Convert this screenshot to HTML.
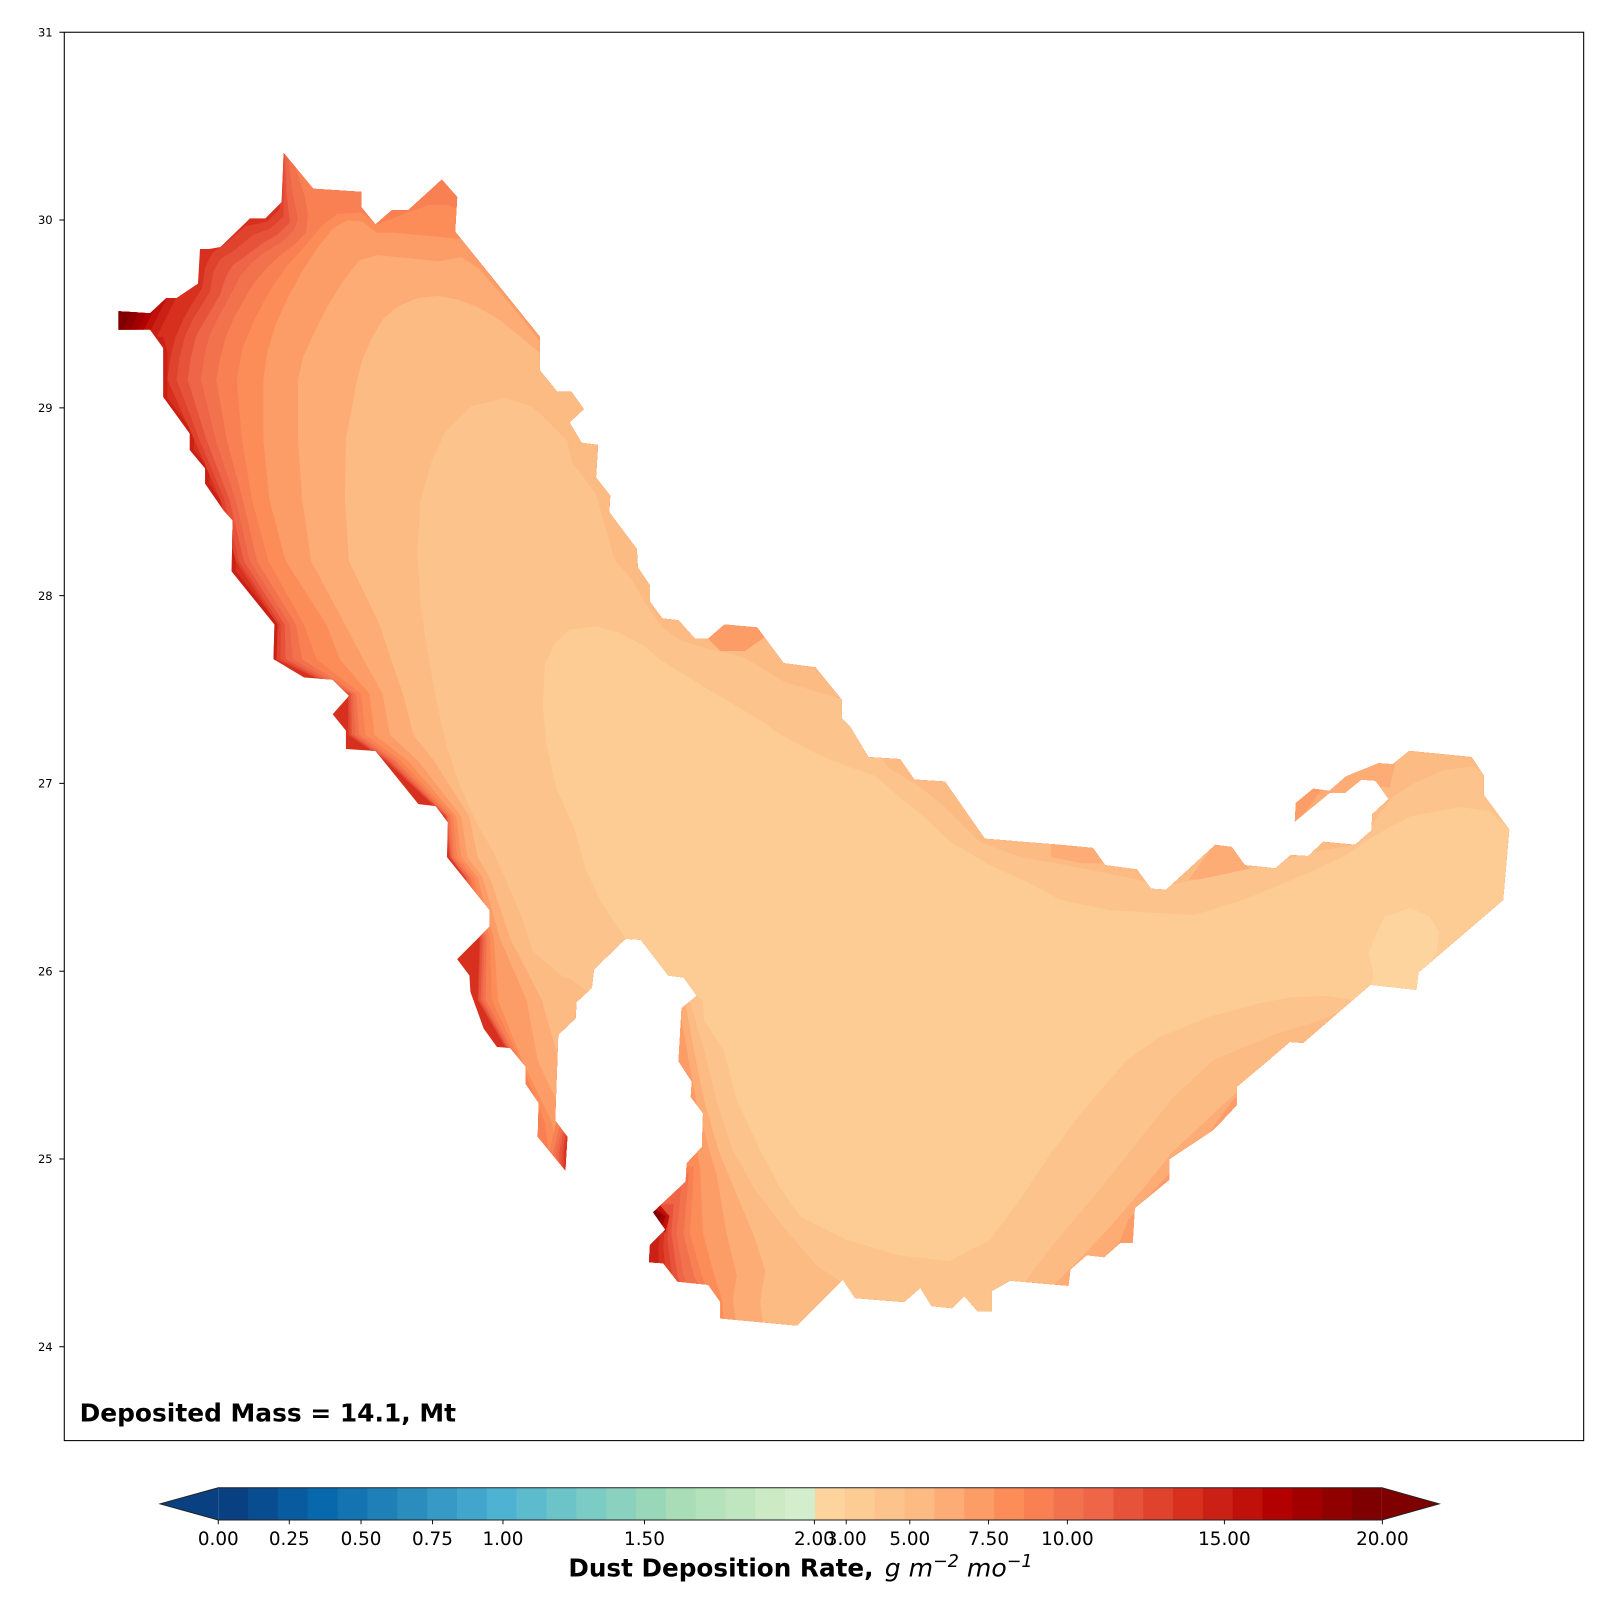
<!DOCTYPE html>
<html>
<head>
<meta charset="utf-8">
<style>
html,body{margin:0;padding:0;background:#fff;}
svg{display:block;}
text{font-family:"DejaVu Sans","Liberation Sans",sans-serif;}
</style>
</head>
<body>
<svg xmlns="http://www.w3.org/2000/svg" width="1600" height="1600" viewBox="0 0 1568 1568">
<rect x="0" y="0" width="1568" height="1568" fill="#ffffff"/>
<defs>
<clipPath id="w">
<polygon points="116,305 147,307 163,292 173,292 194,278 196,244 205,244 216,242 245,214 260,214 276,198 278,150 307,185 354,188 354,203 368,220 384,206 400,206 433,176 448,193 446,227 529,330 529,363 546,384 560,384 572,401 558,414 570,434 586,436 584,468 598,486 597,502 624,538 625,556 637,574 637,590 649,606 665,608 681,626 694,626 710,612 742,615 768,650 799,654 825,686 825,704 833,712 851,742 882,744 896,764 926,766 965,822 1039,828 1071,831 1083,848 1114,852 1128,871 1143,872 1191,828 1207,830 1220,848 1250,851 1265,838 1282,839 1297,825 1328,828 1344,814 1345,798 1361,783 1348,765 1334,764 1318,777 1303,777 1269,805 1270,787 1287,773 1303,775 1319,761 1351,748 1365,749 1381,736 1442,742 1454,760 1454,779 1479,813 1473,882 1390,953 1388,970 1343,965 1277,1022 1264,1021 1243,1039 1212,1065 1212,1083 1196,1100 1188,1108 1146,1136 1146,1156 1112,1184 1110,1218 1098,1218 1082,1232 1065,1230 1049,1244 1047,1260 990,1255 972,1265 972,1285 958,1285 945,1270 933,1282 913,1280 902,1262 886,1276 838,1272 826,1254 781,1299 706,1292 706,1276 694,1259 664,1256 650,1238 636,1237 637,1220 652,1205 640,1188 672,1158 673,1140 688,1124 689,1091 677,1075 678,1060 665,1040 668,988 683,976 670,958 655,956 628,921 613,920 582,950 580,968 565,982 564,998 547,1014 544,1098 556,1114 554,1147 527,1114 528,1081 515,1062 515,1045 500,1027 487,1026 474,1008 461,972 460,956 448,940 480,908 480,892 438,840 439,806 427,790 410,788 368,736 339,734 339,716 326,700 342,682 326,666 298,664 268,646 269,612 227,560 228,510 219,500 201,474 201,459 186,441 186,425 173,407 160,389 160,341 147,323 116,323"/>
</clipPath>
</defs>

<g clip-path="url(#w)">
<rect x="0" y="0" width="1568" height="1568" fill="#d7301f"/>
<polygon fill="#cb2015" points="160,330 164,345 164,390 177,407 190,425 190,441 205,459 205,474 223,500 232,510 231,560 273,612 272,646 240,660 100,660 100,330"/>
<!-- NW tip stripes -->
<polygon fill="#cb2015" points="178.5,280 143.5,350 100,350 100,280"/>
<polygon fill="#bf100a" points="169.5,280 134.5,350 100,350 100,280"/>
<polygon fill="#b30000" points="162.5,280 127.5,350 100,350 100,280"/>
<polygon fill="#a20000" points="156.5,280 121.5,350 100,350 100,280"/>
<polygon fill="#900000" points="149.5,280 114.5,350 100,350 100,280"/>
<polygon fill="#7f0000" points="141.5,280 106.5,350 100,350 100,280"/>

<!-- West coastal bands -->
<path fill="#df422d" d="M276,-100 L276,150 L276,180 L274,205 L262,217 L240,222 L222,238 L208,248 L201,262 L198,282 L188,298 L180,312 L172,330 L167,350 L164,372 L190,430 L216,490 L231,550 L272,612 L271,646 L341,680 L341,720 L377,745 L436,800 L440,840 L455,860 L470,920 L468,980 L503,1040 L520,1100 L528,1146 L600,1165 L600,1600 L1600,1600 L1600,-100 Z"/>
<path fill="#e7533a" d="M277,-100 L277,150 L278,180 L278,212 L265,224 L248,230 L230,245 L216,254 L209,266 L206,285 L197,300 L189,313 L181,330 L176,350 L173,372 L195,430 L220,490 L234,550 L275,612 L275,646 L342,680 L343,720 L379,745 L437,800 L441,840 L456,860 L471,920 L469,980 L504,1040 L521,1100 L529,1146 L600,1165 L600,1600 L1600,1600 L1600,-100 Z"/>
<path fill="#ef6548" d="M279,-100 L279,150 L281,190 L284,218 L272,230 L258,238 L242,250 L228,260 L221,272 L216,288 L208,302 L200,315 L192,330 L187,350 L184,372 L202,430 L225,490 L239,550 L279,612 L280,646 L344,680 L345,720 L381,745 L438,800 L442,840 L457,860 L473,920 L471,980 L505,1040 L522,1100 L530,1146 L600,1165 L600,1600 L1600,1600 L1600,-100 Z"/>
<path fill="#f3724e" d="M282,-100 L282,150 L283,160 L287,190 L292,215 L288,226 L275,238 L260,247 L246,258 L236,270 L228,285 L220,300 L212,315 L205,330 L200,350 L197,372 L211,430 L231,490 L245,550 L284,612 L287,646 L346,680 L348,720 L384,745 L439,800 L443,840 L459,860 L475,920 L473,980 L506,1040 L523,1100 L531,1146 L600,1165 L600,1600 L1600,1600 L1600,-100 Z"/>
<path fill="#f88053" d="M288,-100 L288,150 L290,165 L298,190 L302,210 L300,228 L288,240 L275,250 L262,262 L250,276 L240,292 L230,310 L222,328 L216,350 L212,372 L222,430 L238,490 L252,550 L290,612 L296,646 L349,680 L352,720 L387,745 L441,800 L445,840 L461,860 L477,920 L476,980 L508,1040 L525,1100 L533,1146 L600,1165 L600,1600 L1600,1600 L1600,-100 Z"/>
<path fill="#fc8d59" d="M480,-100 L480,205 L448,205 L440,201 L420,201 L405,206 L385,214 L369,220 L354,208 L330,210 L315,222 L300,240 L282,260 L265,284 L250,312 L238,340 L232,372 L237,430 L247,490 L263,550 L298,612 L310,646 L354,680 L358,720 L392,745 L444,800 L448,840 L464,860 L480,920 L482,980 L510,1040 L534,1100 L540,1146 L600,1165 L600,1600 L1600,1600 L1600,-100 Z"/>
<path fill="#fc9c67" d="M480,-100 L480,234 L448,234 L430,232 L385,228 L369,228 L355,217 L340,216 L326,224 L312,242 L296,266 L282,292 L270,318 L262,345 L258,372 L258,430 L264,490 L280,550 L320,612 L333,646 L362,680 L367,720 L399,745 L447,800 L452,840 L468,860 L484,920 L488,980 L512,1040 L541,1100 L548,1146 L600,1165 L600,1600 L1600,1600 L1600,-100 Z"/>
<path fill="#fdac76" d="M560,-100 L560,334 L529,334 L500,298 L470,264 L452,252 L430,256 L400,253 L370,250 L352,255 L336,276 L320,302 L307,328 L297,350 L292,372 L292,430 L296,490 L305,550 L338,612 L356,646 L375,680 L382,720 L409,745 L452,800 L458,840 L473,860 L490,920 L516,980 L527,1040 L556,1100 L570,1146 L600,1165 L600,1600 L1600,1600 L1600,-100 Z"/>
<path fill="#fdbb84" d="M560,-100 L560,346 L529,346 L510,330 L490,314 L470,302 L450,294 L430,290 L410,292 L390,300 L376,312 L365,330 L356,350 L350,372 L339,430 L338,490 L342,550 L372,612 L383,646 L395,680 L405,720 L425,745 L460,800 L468,840 L480,860 L500,920 L531,980 L548,1040 L565,1100 L575,1146 L600,1165 L600,1600 L1600,1600 L1600,-100 Z"/>

<!-- Bahrain strip tip (red on east side) -->
<polygon fill="#f88053" points="545,1100 570,1100 570,1160 540,1160 538,1130"/>
<polygon fill="#f3724e" points="548,1104 570,1104 570,1160 544,1160 542,1130"/>
<polygon fill="#ef6548" points="550,1108 570,1108 570,1160 547,1160 545,1130"/>
<polygon fill="#e7533a" points="552,1110 570,1110 570,1160 549,1160 548,1130"/>
<polygon fill="#df422d" points="554,1112 570,1112 570,1160 551,1160 551,1130"/>
<polygon fill="#d7301f" points="555,1114 570,1114 570,1160 553,1160 553,1130"/>

<!-- Iran coast spots -->
<polygon fill="#fc9c67" points="690,622 705,610 742,612 750,624 730,638 706,638"/>
<polygon fill="#fdac76" points="1165,862 1191,826 1207,828 1225,852 1200,862"/>
<polygon fill="#fdac76" points="1030,826 1071,829 1083,846 1060,846 1030,840"/>
<polygon fill="#fdac76" points="1262,812 1266,784 1287,770 1303,772 1319,758 1351,745 1368,746 1362,772 1345,770 1334,768 1318,780 1303,780"/>
<polygon fill="#fc9c67" points="1262,812 1266,784 1287,770 1296,772 1280,795"/>

<!-- SW (Qatar SE / UAE W) coastal stripes -->
<polygon fill="#fdac76" points="672,985 680,1029 690,1078 704,1127 720,1166 738,1209 750,1245 745,1275 748,1300 748,1320 600,1320 600,985"/>
<polygon fill="#fc9c67" points="668,1000 675,1040 682,1078 695,1127 702,1150 712,1209 722,1250 718,1275 722,1300 722,1320 600,1320 600,1000"/>
<polygon fill="#fc8d59" points="677,1100 686,1143 689,1209 700,1250 708,1275 710,1320 600,1320 600,1100"/>
<polygon fill="#f88053" points="680,1143 678,1180 676,1209 688,1250 698,1280 700,1320 600,1320 600,1143"/>
<polygon fill="#f3724e" points="675,1150 670,1209 680,1250 690,1270 690,1320 600,1320 600,1150"/>
<polygon fill="#ef6548" points="668,1160 663,1209 670,1250 676,1265 676,1320 600,1320 600,1160"/>
<polygon fill="#e7533a" points="660,1180 658,1209 664,1250 668,1262 668,1320 600,1320 600,1180"/>
<polygon fill="#df422d" points="656,1190 654,1215 658,1245 660,1262 660,1320 600,1320 600,1190"/>
<polygon fill="#d7301f" points="652,1195 650,1220 652,1245 654,1262 654,1320 600,1320 600,1195"/>
<polygon fill="#cb2015" points="648,1198 645,1225 646,1250 646,1320 600,1320 600,1198"/>
<polygon fill="#bf100a" points="646,1180 656,1192 652,1208 638,1200"/>
<polygon fill="#a20000" points="642,1184 652,1192 648,1205 638,1196"/>
<polygon fill="#7f0000" points="640,1186 648,1191 645,1200 638,1193"/>

<!-- UAE coastal stripes -->
<polygon fill="#fdac76" points="1030,1262 1060,1232 1090,1200 1120,1165 1150,1128 1180,1100 1210,1072 1240,1046 1270,1025 1300,1008 1330,990 1352,972 1420,1000 1420,1350 1030,1350"/>
<polygon fill="#fc9c67" points="1094,1225 1106,1195 1122,1176 1146,1150 1170,1150 1120,1240"/>
<polygon fill="#fc9c67" points="1184,1112 1198,1092 1210,1076 1230,1080 1196,1124"/>

<!-- C2 region -->
<polygon fill="#fdc38d" points="550,956 522,932 512,900 500,872 484,836 466,804 450,768 438,732 427,684 418,632 412,592 409,540 412,492 423,452 436,424 462,398 495,390 520,398 528,404 556,432 560,452 584,484 602,548 619,568 633,592 650,616 668,628 694,636 729,644 768,668 833,688 850,720 870,752 900,770 925,790 960,825 1000,840 1039,847 1071,853 1114,862 1137,869 1189,859 1235,849 1287,835 1328,828 1340,818 1350,800 1365,781 1385,768 1414,755 1444,751 1458,760 1500,790 1500,1000 1380,1000 1343,967 1316,990 1294,1000 1251,1013 1189,1039 1150,1075 1110,1125 1070,1175 1030,1222 1000,1262 1000,1300 830,1300 830,1260 800,1240 770,1205 740,1166 718,1127 702,1078 690,1029 676,980 640,975 620,990 580,975 560,960"/>
<!-- C1 core -->
<polygon fill="#fdcc95" points="613,920 589,884 574,852 563,812 545,772 536,732 532,692 534,652 543,632 558,617 584,614 606,620 633,634 646,646 694,676 742,704 768,722 803,740 833,752 857,760 880,780 905,800 930,824 970,848 1010,866 1039,882 1088,892 1170,897 1218,882 1267,862 1316,840 1349,818 1382,800 1431,791 1460,795 1479,813 1500,813 1500,980 1390,980 1343,970 1326,980 1300,976 1267,977 1235,983 1186,996 1137,1016 1104,1039 1060,1090 1030,1130 1000,1175 970,1215 930,1236 880,1230 830,1215 784,1192 764,1163 745,1127 722,1078 709,1029 690,1000 689,980 683,976 640,950"/>
<!-- C0 blob -->
<polygon fill="#fdd49e" points="1357,898 1382,890 1401,898 1410,913 1408,934 1395,955 1392,980 1343,972 1346,954 1341,934 1352,908"/>
</g>

<!-- Axes -->
<rect x="63" y="31.6" width="1489" height="1380.2" fill="none" stroke="#000" stroke-width="1.05"/>
<g stroke="#000" stroke-width="1">
<line x1="58.1" y1="31.6" x2="63" y2="31.6"/>
<line x1="58.1" y1="215.6" x2="63" y2="215.6"/>
<line x1="58.1" y1="399.7" x2="63" y2="399.7"/>
<line x1="58.1" y1="583.7" x2="63" y2="583.7"/>
<line x1="58.1" y1="767.7" x2="63" y2="767.7"/>
<line x1="58.1" y1="951.8" x2="63" y2="951.8"/>
<line x1="58.1" y1="1135.8" x2="63" y2="1135.8"/>
<line x1="58.1" y1="1319.8" x2="63" y2="1319.8"/>
</g>
<g font-size="11.3" fill="#000" text-anchor="end">
<text x="51.6" y="35.7">31</text>
<text x="51.6" y="219.7">30</text>
<text x="51.6" y="403.8">29</text>
<text x="51.6" y="587.8">28</text>
<text x="51.6" y="771.8">27</text>
<text x="51.6" y="955.9">26</text>
<text x="51.6" y="1139.9">25</text>
<text x="51.6" y="1323.9">24</text>
</g>

<text x="78" y="1393" font-size="24.4" font-weight="bold" fill="#000">Deposited Mass = 14.1, Mt</text>

<!-- Colorbar -->
<polygon points="213.9,1458 156.8,1473.8 213.9,1489.6" fill="#084081"/>
<polygon points="1354.26,1458 1410.5,1473.8 1354.26,1489.6" fill="#7f0000"/>
<g>
<rect x="213.9" y="1458" width="29.8" height="31.6" fill="#084081"/>
<rect x="243.14" y="1458" width="29.8" height="31.6" fill="#084d8f"/>
<rect x="272.38" y="1458" width="29.8" height="31.6" fill="#085b9e"/>
<rect x="301.62" y="1458" width="29.8" height="31.6" fill="#0868ac"/>
<rect x="330.86" y="1458" width="29.8" height="31.6" fill="#1474b2"/>
<rect x="360.1" y="1458" width="29.8" height="31.6" fill="#1f80b8"/>
<rect x="389.34" y="1458" width="29.8" height="31.6" fill="#2b8cbe"/>
<rect x="418.58" y="1458" width="29.8" height="31.6" fill="#3799c5"/>
<rect x="447.82" y="1458" width="29.8" height="31.6" fill="#42a6cc"/>
<rect x="477.06" y="1458" width="29.8" height="31.6" fill="#4eb3d3"/>
<rect x="506.3" y="1458" width="29.8" height="31.6" fill="#5dbbce"/>
<rect x="535.54" y="1458" width="29.8" height="31.6" fill="#6cc4c9"/>
<rect x="564.78" y="1458" width="29.8" height="31.6" fill="#7bccc4"/>
<rect x="594.02" y="1458" width="29.8" height="31.6" fill="#8ad2bf"/>
<rect x="623.26" y="1458" width="29.8" height="31.6" fill="#99d7b9"/>
<rect x="652.5" y="1458" width="29.8" height="31.6" fill="#a8ddb5"/>
<rect x="681.74" y="1458" width="29.8" height="31.6" fill="#b4e2ba"/>
<rect x="710.98" y="1458" width="29.8" height="31.6" fill="#c0e6c0"/>
<rect x="740.22" y="1458" width="29.8" height="31.6" fill="#ccebc5"/>
<rect x="769.46" y="1458" width="29.8" height="31.6" fill="#d3eecc"/>
<rect x="798.7" y="1458" width="29.8" height="31.6" fill="#fdd49e"/>
<rect x="827.94" y="1458" width="29.8" height="31.6" fill="#fdcc95"/>
<rect x="857.18" y="1458" width="29.8" height="31.6" fill="#fdc38d"/>
<rect x="886.42" y="1458" width="29.8" height="31.6" fill="#fdbb84"/>
<rect x="915.66" y="1458" width="29.8" height="31.6" fill="#fdac76"/>
<rect x="944.9" y="1458" width="29.8" height="31.6" fill="#fc9c67"/>
<rect x="974.14" y="1458" width="29.8" height="31.6" fill="#fc8d59"/>
<rect x="1003.38" y="1458" width="29.8" height="31.6" fill="#f88053"/>
<rect x="1032.62" y="1458" width="29.8" height="31.6" fill="#f3724e"/>
<rect x="1061.86" y="1458" width="29.8" height="31.6" fill="#ef6548"/>
<rect x="1091.1" y="1458" width="29.8" height="31.6" fill="#e7533a"/>
<rect x="1120.34" y="1458" width="29.8" height="31.6" fill="#df422d"/>
<rect x="1149.58" y="1458" width="29.8" height="31.6" fill="#d7301f"/>
<rect x="1178.82" y="1458" width="29.8" height="31.6" fill="#cb2015"/>
<rect x="1208.06" y="1458" width="29.8" height="31.6" fill="#bf100a"/>
<rect x="1237.3" y="1458" width="29.8" height="31.6" fill="#b30000"/>
<rect x="1266.54" y="1458" width="29.8" height="31.6" fill="#a20000"/>
<rect x="1295.78" y="1458" width="29.8" height="31.6" fill="#900000"/>
<rect x="1325.02" y="1458" width="29.24" height="31.6" fill="#7f0000"/>
</g>
<path d="M213.9,1458 L1354.26,1458 L1410.5,1473.8 L1354.26,1489.6 L213.9,1489.6 L156.8,1473.8 Z" fill="none" stroke="#222" stroke-width="0.9"/>
<g stroke="#000" stroke-width="0.9">
<line x1="213.9" y1="1489.6" x2="213.9" y2="1493.8"/>
<line x1="283.5" y1="1489.6" x2="283.5" y2="1493.8"/>
<line x1="353.8" y1="1489.6" x2="353.8" y2="1493.8"/>
<line x1="423.8" y1="1489.6" x2="423.8" y2="1493.8"/>
<line x1="492.9" y1="1489.6" x2="492.9" y2="1493.8"/>
<line x1="631.6" y1="1489.6" x2="631.6" y2="1493.8"/>
<line x1="798.1" y1="1489.6" x2="798.1" y2="1493.8"/>
<line x1="829.3" y1="1489.6" x2="829.3" y2="1493.8"/>
<line x1="891.6" y1="1489.6" x2="891.6" y2="1493.8"/>
<line x1="968.8" y1="1489.6" x2="968.8" y2="1493.8"/>
<line x1="1046" y1="1489.6" x2="1046" y2="1493.8"/>
<line x1="1199.9" y1="1489.6" x2="1199.9" y2="1493.8"/>
<line x1="1354.7" y1="1489.6" x2="1354.7" y2="1493.8"/>
</g>
<g font-size="18" fill="#000" text-anchor="middle">
<text x="213.9" y="1514">0.00</text>
<text x="283.5" y="1514">0.25</text>
<text x="353.8" y="1514">0.50</text>
<text x="423.8" y="1514">0.75</text>
<text x="492.9" y="1514">1.00</text>
<text x="631.6" y="1514">1.50</text>
<text x="798.1" y="1514">2.00</text>
<text x="829.3" y="1514">3.00</text>
<text x="891.6" y="1514">5.00</text>
<text x="968.8" y="1514">7.50</text>
<text x="1046" y="1514">10.00</text>
<text x="1199.9" y="1514">15.00</text>
<text x="1354.7" y="1514">20.00</text>
</g>
<text x="557" y="1545" font-size="24.2" font-weight="bold" fill="#000">Dust Deposition Rate,</text>
<text x="867" y="1545" font-size="24.6" font-style="italic" fill="#000" xml:space="preserve">g m<tspan font-size="17.2" dy="-9.5">−2</tspan><tspan dy="9.5"> mo</tspan><tspan font-size="17.2" dy="-9.5">−1</tspan></text>
</svg>
</body>
</html>
